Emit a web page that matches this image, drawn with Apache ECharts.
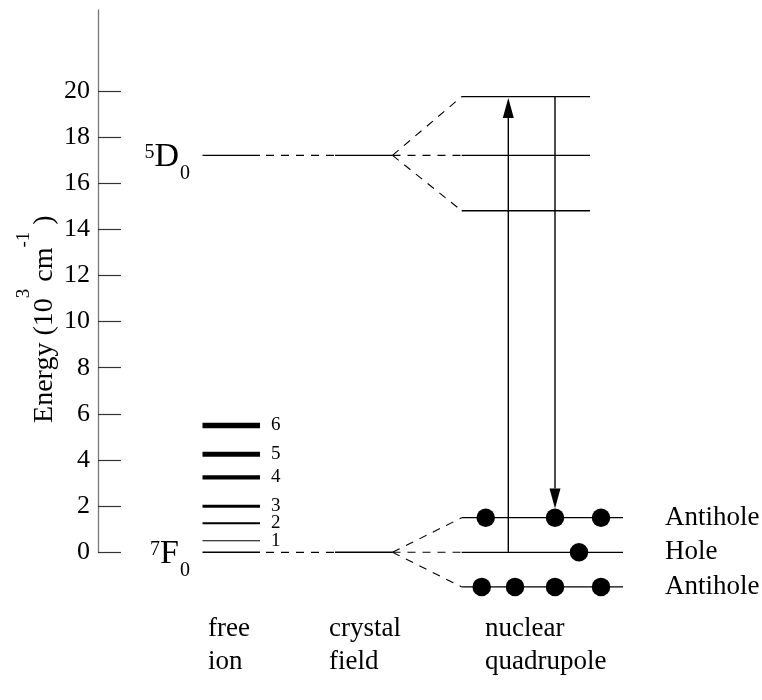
<!DOCTYPE html>
<html>
<head>
<meta charset="utf-8">
<script src="https://cdn.jsdelivr.net/npm/echarts@6/dist/echarts.min.js"></script>
<style>
  html, body { margin: 0; padding: 0; background: #fff; }
  #chart { width: 762px; height: 700px; }
</style>
</head>
<body>
<div id="chart"></div>
<script>
// Eu3+ energy levels, in 10^3 cm^-1
const energyTicks = [0, 2, 4, 6, 8, 10, 12, 14, 16, 18, 20];
const groundMultiplet = [0, 0.5, 1.26, 2.0, 3.25, 4.25, 5.5];   // 7F_J, J = 0..6
const jLabels = ['', '1', '2', '3', '4', '5', '6'];
const excitedEnergy = 17.2;                                      // 5D0
const excitedTerm = ['5', 'D', '0'];
const groundTerm = ['7', 'F', '0'];
const excitedQuadrupole = [19.75, 17.2, 14.8];                   // 5D0 hyperfine sublevels
const groundQuadrupole = [1.5, 0, -1.5];                         // 7F0 hyperfine sublevels
const groundNames = ['Antihole', 'Hole', 'Antihole'];
const groundPopulation = [3, 1, 4];                              // ions drawn on each sublevel
const columnNames = ['free\nion', 'crystal\nfield', 'nuclear\nquadrupole'];

const SERIF = '"Liberation Serif", "Times New Roman", serif';

// Horizontal layout of the diagram, in x-axis units (10 px each)
const COL = {
  freeStart: 10.45, freeEnd: 16.2, linkStart: 16.8,
  crystalStart: 23.7, crystalEnd: 29.45,
  nuclearStart: 36.37, excitedEnd: 49.2, groundEnd: 52.5,
  pumpX: 41.03, probeX: 45.7,
  jLabelX: 17.3, termLabelX: 9.2, stateLabelX: 56.7
};
const DOT_SLOTS = [[38.77, 45.7, 50.3], [48.1], [38.37, 41.7, 45.7, 50.3]];
const J_WIDTH = [1.4, 1.2, 2, 3, 4.3, 5, 5.5];
const DOT_SIZE = 18.5;
const COLUMN_LABEL_LEFT = [208, 329, 485];

// Level lines and the dashed connectors between columns
const segments = [];
function seg(x1, y1, x2, y2, width, dashed) {
  segments.push({ value: [x1, y1, x2, y2], width: width, dashed: dashed });
}
groundMultiplet.forEach((e, j) => seg(COL.freeStart, e, COL.freeEnd, e, J_WIDTH[j], false));
seg(COL.freeStart, excitedEnergy, COL.freeEnd, excitedEnergy, 1.4, false);
[
  [excitedEnergy, excitedQuadrupole, COL.excitedEnd],
  [groundMultiplet[0], groundQuadrupole, COL.groundEnd]
].forEach(([e, split, end]) => {
  seg(COL.linkStart, e, COL.crystalStart, e, 1.2, true);
  seg(COL.crystalStart, e, COL.crystalEnd, e, 1.4, false);
  split.forEach(s => {
    seg(COL.crystalEnd, e, COL.nuclearStart, s, 1.1, true);
    seg(COL.nuclearStart, s, end, s, 1.3, false);
  });
});

// Burned ions on the ground hyperfine sublevels
const dots = [];
groundPopulation.forEach((n, i) => {
  DOT_SLOTS[i].slice(0, n).forEach(x => dots.push([x, groundQuadrupole[i]]));
});

// Pump (up) and probe (down) transitions
const transitions = [
  { x: COL.pumpX, from: groundQuadrupole[1], to: excitedQuadrupole[0], toDot: false },
  { x: COL.probeX, from: excitedQuadrupole[0], to: groundQuadrupole[0], toDot: true }
];

// Term symbols: small multiplicity raised, J index lowered
const TERM_RICH = {
  sup: { fontFamily: SERIF, fontSize: 20, padding: [3, 0, 0, 0], verticalAlign: 'top', fill: '#000' },
  big: { fontFamily: SERIF, fontSize: 34, lineHeight: 60, verticalAlign: 'top', fill: '#000' },
  sub: { fontFamily: SERIF, fontSize: 20, padding: [24, 0, 0, 1], verticalAlign: 'top', fill: '#000' }
};
const labels = [];
jLabels.forEach((t, j) => {
  if (t) labels.push({ value: [COL.jLabelX, groundMultiplet[j]], text: t, size: 19, align: 'left' });
});
[[excitedTerm, excitedEnergy], [groundTerm, groundMultiplet[0]]].forEach(([parts, e]) => {
  labels.push({
    value: [COL.termLabelX, e], align: 'right', term: true,
    text: '{sup|' + parts[0] + '}{big|' + parts[1] + '}{sub|' + parts[2] + '}'
  });
});
groundNames.forEach((t, i) => {
  labels.push({ value: [COL.stateLabelX, groundQuadrupole[i]], text: t, size: 27, align: 'left' });
});

const chart = echarts.init(document.getElementById('chart'));

chart.setOption({
  animation: false,
  backgroundColor: '#fff',
  grid: { left: 98, right: 0, top: 10, bottom: 147.7, outerBoundsMode: 'none', containLabel: false },
  xAxis: { type: 'value', min: 0, max: 66.4, show: false },
  yAxis: {
    type: 'value', min: 0, max: 23.5,
    axisLine: { show: true, lineStyle: { color: '#777', width: 1.3 } },
    axisTick: { show: true, inside: true, length: 23, customValues: energyTicks,
                lineStyle: { color: '#333', width: 1.2 } },
    axisLabel: { customValues: energyTicks, fontFamily: SERIF, fontSize: 26, color: '#000', margin: 8 },
    splitLine: { show: false },
    name: '{base|Energy (10}{sup|3}{base| cm}{sup|-1}{base| )}',
    nameLocation: 'middle', nameRotate: 90, nameGap: 11, nameMoveOverlap: false,
    nameTextStyle: {
      padding: [0, 76, 0, 0],
      rich: {
        base: { fontFamily: SERIF, fontSize: 28, lineHeight: 80, padding: [24, 0, 0, 0],
                verticalAlign: 'top', color: '#000' },
        sup: { fontFamily: SERIF, fontSize: 19, padding: [8, 0, 0, 0],
               verticalAlign: 'top', color: '#000' }
      }
    }
  },
  graphic: columnNames.map((t, i) => ({
    type: 'text', left: COLUMN_LABEL_LEFT[i], top: 612, silent: true,
    style: { text: t, fontFamily: SERIF, fontSize: 27, lineHeight: 33, fill: '#000' }
  })),
  series: [
    {
      type: 'custom', name: 'levels', coordinateSystem: 'cartesian2d', clip: false, silent: true,
      data: segments.map(s => s.value),
      encode: { x: [0, 2], y: [1, 3] },
      renderItem: (params, api) => {
        const s = segments[params.dataIndex];
        const p1 = api.coord([api.value(0), api.value(1)]);
        const p2 = api.coord([api.value(2), api.value(3)]);
        return {
          type: 'line',
          shape: { x1: p1[0], y1: p1[1], x2: p2[0], y2: p2[1] },
          style: { stroke: '#000', lineWidth: s.width, lineDash: s.dashed ? [8, 7] : null }
        };
      }
    },
    {
      type: 'custom', name: 'transitions', coordinateSystem: 'cartesian2d', clip: false, silent: true,
      data: transitions.map(t => [t.x, t.from, t.to]),
      encode: { x: 0, y: [1, 2] },
      renderItem: (params, api) => {
        const t = transitions[params.dataIndex];
        const p0 = api.coord([api.value(0), api.value(1)]);
        const p1 = api.coord([api.value(0), api.value(2)]);
        const dir = p1[1] < p0[1] ? -1 : 1;           // -1 upward, 1 downward
        const tipY = p1[1] - dir * (t.toDot ? DOT_SIZE / 2 : 1.5);
        const baseY = tipY - dir * 20;
        const x = p0[0];
        return {
          type: 'group',
          children: [
            { type: 'line', shape: { x1: x, y1: p0[1], x2: x, y2: baseY },
              style: { stroke: '#000', lineWidth: 1.4 } },
            { type: 'polygon', shape: { points: [[x, tipY], [x - 5.5, baseY], [x + 5.5, baseY]] },
              style: { fill: '#000' } }
          ]
        };
      }
    },
    {
      type: 'scatter', name: 'ions', clip: false, silent: true, z: 5,
      symbol: 'circle', symbolSize: DOT_SIZE,
      itemStyle: { color: '#000', opacity: 1 },
      data: dots
    },
    {
      type: 'custom', name: 'labels', coordinateSystem: 'cartesian2d', clip: false, silent: true,
      data: labels.map(l => l.value),
      encode: { x: 0, y: 1 },
      renderItem: (params, api) => {
        const l = labels[params.dataIndex];
        const p = api.coord([api.value(0), api.value(1)]);
        if (l.term) {
          return {
            type: 'text', x: p[0], y: p[1] - 15.5,
            style: { text: l.text, rich: TERM_RICH, align: 'right', verticalAlign: 'top' }
          };
        }
        return {
          type: 'text', x: p[0], y: p[1],
          style: { text: l.text, fontFamily: SERIF, fontSize: l.size, fill: '#000',
                   align: l.align, verticalAlign: 'middle' }
        };
      }
    }
  ]
});
</script>
</body>
</html>
